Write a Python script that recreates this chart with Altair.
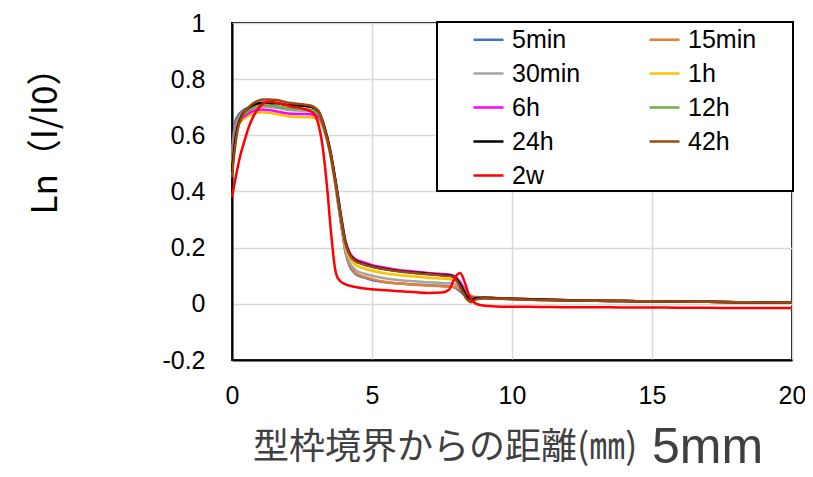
import altair as alt
import pandas as pd

SERIES = ["5min", "15min", "30min", "1h", "6h", "12h", "24h", "42h", "2w"]
COLORS = ["#4472C4", "#ED7D31", "#A5A5A5", "#FFC000", "#FF00FF", "#70AD47", "#000000", "#9E480E", "#FF0000"]

# shared distance grid (mm) for the first eight series
X = [0, 0.1, 0.2, 0.35, 0.5, 0.7, 0.9, 1.1, 1.3, 1.6,
     2.0, 2.4, 2.8, 3.1, 3.3, 3.5, 3.7, 3.9, 4.05, 4.2,
     4.4, 4.7, 5.0, 5.5, 6.0, 6.5, 7.0, 7.5, 7.8, 8.0,
     8.2, 8.4, 8.55, 8.7, 9.0, 9.5, 10, 11, 12, 13,
     14, 15, 16, 17, 18, 19, 20]

Y_5MIN = [0.55, 0.64, 0.668, 0.685, 0.695, 0.703, 0.708, 0.71, 0.709, 0.704,
          0.696, 0.692, 0.69, 0.675, 0.62, 0.538, 0.418, 0.28, 0.185, 0.135,
          0.108, 0.094, 0.085, 0.077, 0.072, 0.069, 0.066, 0.064, 0.063, 0.056,
          0.04, 0.022, 0.016, 0.018, 0.019, 0.018, 0.016, 0.014, 0.012, 0.011,
          0.01, 0.009, 0.008, 0.007, 0.006, 0.005, 0.004]
Y_15MIN = [0.53, 0.62, 0.655, 0.678, 0.69, 0.7, 0.705, 0.707, 0.706, 0.702,
           0.694, 0.69, 0.688, 0.673, 0.62, 0.54, 0.42, 0.285, 0.19, 0.14,
           0.112, 0.097, 0.088, 0.078, 0.072, 0.068, 0.065, 0.062, 0.061, 0.058,
           0.048, 0.03, 0.02, 0.02, 0.02, 0.019, 0.017, 0.014, 0.012, 0.011,
           0.01, 0.009, 0.008, 0.007, 0.006, 0.005, 0.004]
Y_30MIN = [0.52, 0.61, 0.645, 0.67, 0.683, 0.693, 0.7, 0.703, 0.702, 0.698,
           0.69, 0.688, 0.686, 0.672, 0.62, 0.54, 0.425, 0.29, 0.195, 0.148,
           0.122, 0.108, 0.1, 0.09, 0.084, 0.08, 0.077, 0.074, 0.073, 0.068,
           0.055, 0.032, 0.022, 0.022, 0.021, 0.02, 0.018, 0.015, 0.013, 0.011,
           0.01, 0.009, 0.008, 0.007, 0.006, 0.005, 0.004]
Y_1H = [0.5, 0.59, 0.63, 0.652, 0.664, 0.674, 0.68, 0.682, 0.68, 0.675,
        0.668, 0.665, 0.664, 0.655, 0.615, 0.54, 0.43, 0.3, 0.21, 0.165,
        0.14, 0.126, 0.118, 0.108, 0.102, 0.097, 0.093, 0.09, 0.088, 0.082,
        0.065, 0.038, 0.028, 0.025, 0.023, 0.021, 0.019, 0.016, 0.013, 0.011,
        0.01, 0.009, 0.008, 0.007, 0.006, 0.005, 0.004]
Y_6H = [0.51, 0.6, 0.635, 0.66, 0.672, 0.684, 0.69, 0.692, 0.69, 0.685,
        0.678, 0.676, 0.675, 0.665, 0.62, 0.545, 0.435, 0.31, 0.225, 0.183,
        0.16, 0.148, 0.138, 0.128, 0.12, 0.115, 0.11, 0.106, 0.104, 0.095,
        0.07, 0.035, 0.025, 0.023, 0.022, 0.02, 0.018, 0.015, 0.013, 0.011,
        0.01, 0.009, 0.008, 0.007, 0.006, 0.005, 0.004]
Y_12H = [0.5, 0.59, 0.635, 0.665, 0.68, 0.695, 0.703, 0.706, 0.705, 0.702,
         0.696, 0.694, 0.69, 0.676, 0.625, 0.548, 0.435, 0.305, 0.22, 0.178,
         0.155, 0.142, 0.133, 0.123, 0.116, 0.111, 0.106, 0.102, 0.1, 0.09,
         0.062, 0.03, 0.02, 0.022, 0.022, 0.02, 0.018, 0.015, 0.013, 0.011,
         0.01, 0.009, 0.008, 0.007, 0.006, 0.005, 0.004]
Y_24H = [0.47, 0.57, 0.63, 0.67, 0.69, 0.705, 0.713, 0.716, 0.716, 0.714,
         0.708, 0.706, 0.702, 0.684, 0.63, 0.55, 0.435, 0.305, 0.22, 0.178,
         0.155, 0.142, 0.134, 0.124, 0.117, 0.112, 0.107, 0.103, 0.101, 0.09,
         0.06, 0.025, 0.015, 0.02, 0.022, 0.02, 0.018, 0.015, 0.013, 0.011,
         0.01, 0.009, 0.008, 0.007, 0.006, 0.005, 0.004]
Y_42H = [0.45, 0.55, 0.62, 0.665, 0.69, 0.71, 0.722, 0.728, 0.728, 0.726,
         0.716, 0.712, 0.706, 0.685, 0.625, 0.545, 0.43, 0.30, 0.215, 0.175,
         0.152, 0.14, 0.132, 0.122, 0.115, 0.11, 0.105, 0.101, 0.099, 0.085,
         0.05, 0.015, 0.006, 0.015, 0.02, 0.019, 0.017, 0.014, 0.012, 0.011,
         0.01, 0.009, 0.008, 0.007, 0.006, 0.005, 0.004]

# 2w series has its own grid
X_2W = [0, 0.15, 0.3, 0.46, 0.6, 0.75, 0.93, 1.1, 1.3, 1.6,
        2.1, 2.6, 2.9, 3.07, 3.25, 3.4, 3.55, 3.68, 3.8, 4.0,
        4.5, 5.0, 5.5, 6.0, 6.5, 7.0, 7.5, 7.75, 7.9, 8.05,
        8.15, 8.3, 8.45, 8.6, 8.85, 9.2, 9.6, 10, 11, 12,
        13, 14, 15, 16, 17, 18, 19, 20]
Y_2W = [0.38, 0.46, 0.53, 0.585, 0.63, 0.665, 0.695, 0.712, 0.72, 0.716,
        0.703, 0.693, 0.68, 0.645, 0.55, 0.41, 0.24, 0.125, 0.088, 0.072,
        0.058, 0.052, 0.048, 0.045, 0.042, 0.039, 0.04, 0.05, 0.08, 0.105,
        0.11, 0.08, 0.035, 0.008, -0.004, -0.008, -0.01, -0.01, -0.011, -0.012,
        -0.012, -0.013, -0.013, -0.014, -0.014, -0.015, -0.015, -0.015]

X_TICKS = [0, 5, 10, 15, 20]
Y_TICKS = [-0.2, 0, 0.2, 0.4, 0.6, 0.8, 1]

rows = []
for name, ys in zip(SERIES[:8], [Y_5MIN, Y_15MIN, Y_30MIN, Y_1H, Y_6H, Y_12H, Y_24H, Y_42H]):
    assert len(ys) == len(X), name
    for xv, yv in zip(X, ys):
        rows.append({"series": name, "x": xv, "y": yv})
assert len(X_2W) == len(Y_2W)
for xv, yv in zip(X_2W, Y_2W):
    rows.append({"series": "2w", "x": xv, "y": yv})
df = pd.DataFrame(rows)
one = pd.DataFrame({"a": [0]})

W, H = 560, 337
LABEL_FONT = "Liberation Sans"

xscale = alt.Scale(domain=[0, 20], nice=False, zero=False)
yscale = alt.Scale(domain=[-0.2, 1], nice=False, zero=False)

xaxis = alt.Axis(values=X_TICKS, title=None, grid=True, gridColor="#d9d9d9", gridWidth=1.5,
                 domainColor="black", domainWidth=2, ticks=False, labelFontSize=25,
                 labelFont=LABEL_FONT, labelColor="black", labelPadding=23, format="d",
                 labelFlush=False)
yaxis = alt.Axis(values=Y_TICKS, title="Ln（I/I0）", titleFontSize=35, titleFont="Noto Sans CJK JP",
                 titleFontWeight="normal", titleColor="black", titleX=-176, titleY=109,
                 titleAngle=270, titleBaseline="alphabetic", titleAlign="center",
                 grid=True, gridColor="#d9d9d9", gridWidth=1.5,
                 domainColor="black", domainWidth=2, ticks=False, labelFontSize=25,
                 labelFont=LABEL_FONT, labelColor="black", labelPadding=27, format="~g",
                 labelExpr="replace(datum.label, '−', '-')")

legend = alt.Legend(title=None, orient="none", legendX=240, legendY=0, columns=2,
                    direction="horizontal",
                    symbolType="stroke", symbolSize=900, symbolStrokeWidth=2.5,
                    labelFontSize=25, labelFont=LABEL_FONT, labelColor="black",
                    labelOffset=7, rowPadding=4, columnPadding=63, padding=0)
color = alt.Color("series:N", scale=alt.Scale(domain=SERIES, range=COLORS), legend=legend)

base = alt.Chart(df)
layers = []
for s in SERIES:
    layers.append(
        base.transform_filter(alt.datum.series == s)
        .mark_line(strokeWidth=2.5, interpolate="monotone")
        .encode(x=alt.X("x:Q", scale=xscale, axis=xaxis),
                y=alt.Y("y:Q", scale=yscale, axis=yaxis),
                color=color)
    )

frame = alt.Chart(one).mark_rect(fill="white", stroke="black", strokeWidth=2).encode(
    x=alt.value(205), x2=alt.value(561), y=alt.value(-1), y2=alt.value(168))

t1 = alt.Chart(one).mark_text(text="型枠境界からの距離(㎜)", font="Noto Sans CJK JP", fontSize=36,
                              color="#404040", align="left", baseline="alphabetic").encode(
    x=alt.value(21), y=alt.value(436))
t2 = alt.Chart(one).mark_text(text="5mm", font=LABEL_FONT, fontSize=50,
                              color="#404040", align="left", baseline="alphabetic").encode(
    x=alt.value(420), y=alt.value(440))

chart = alt.layer(*layers, frame, t1, t2).properties(
    width=W, height=H,
    autosize=alt.AutoSizeParams(type="none"),
    padding={"left": 224, "top": 15, "right": 13, "bottom": 114},
).configure_view(stroke="black", strokeWidth=2)

chart.save("out.html", embed_options={"renderer": "svg", "actions": False})
